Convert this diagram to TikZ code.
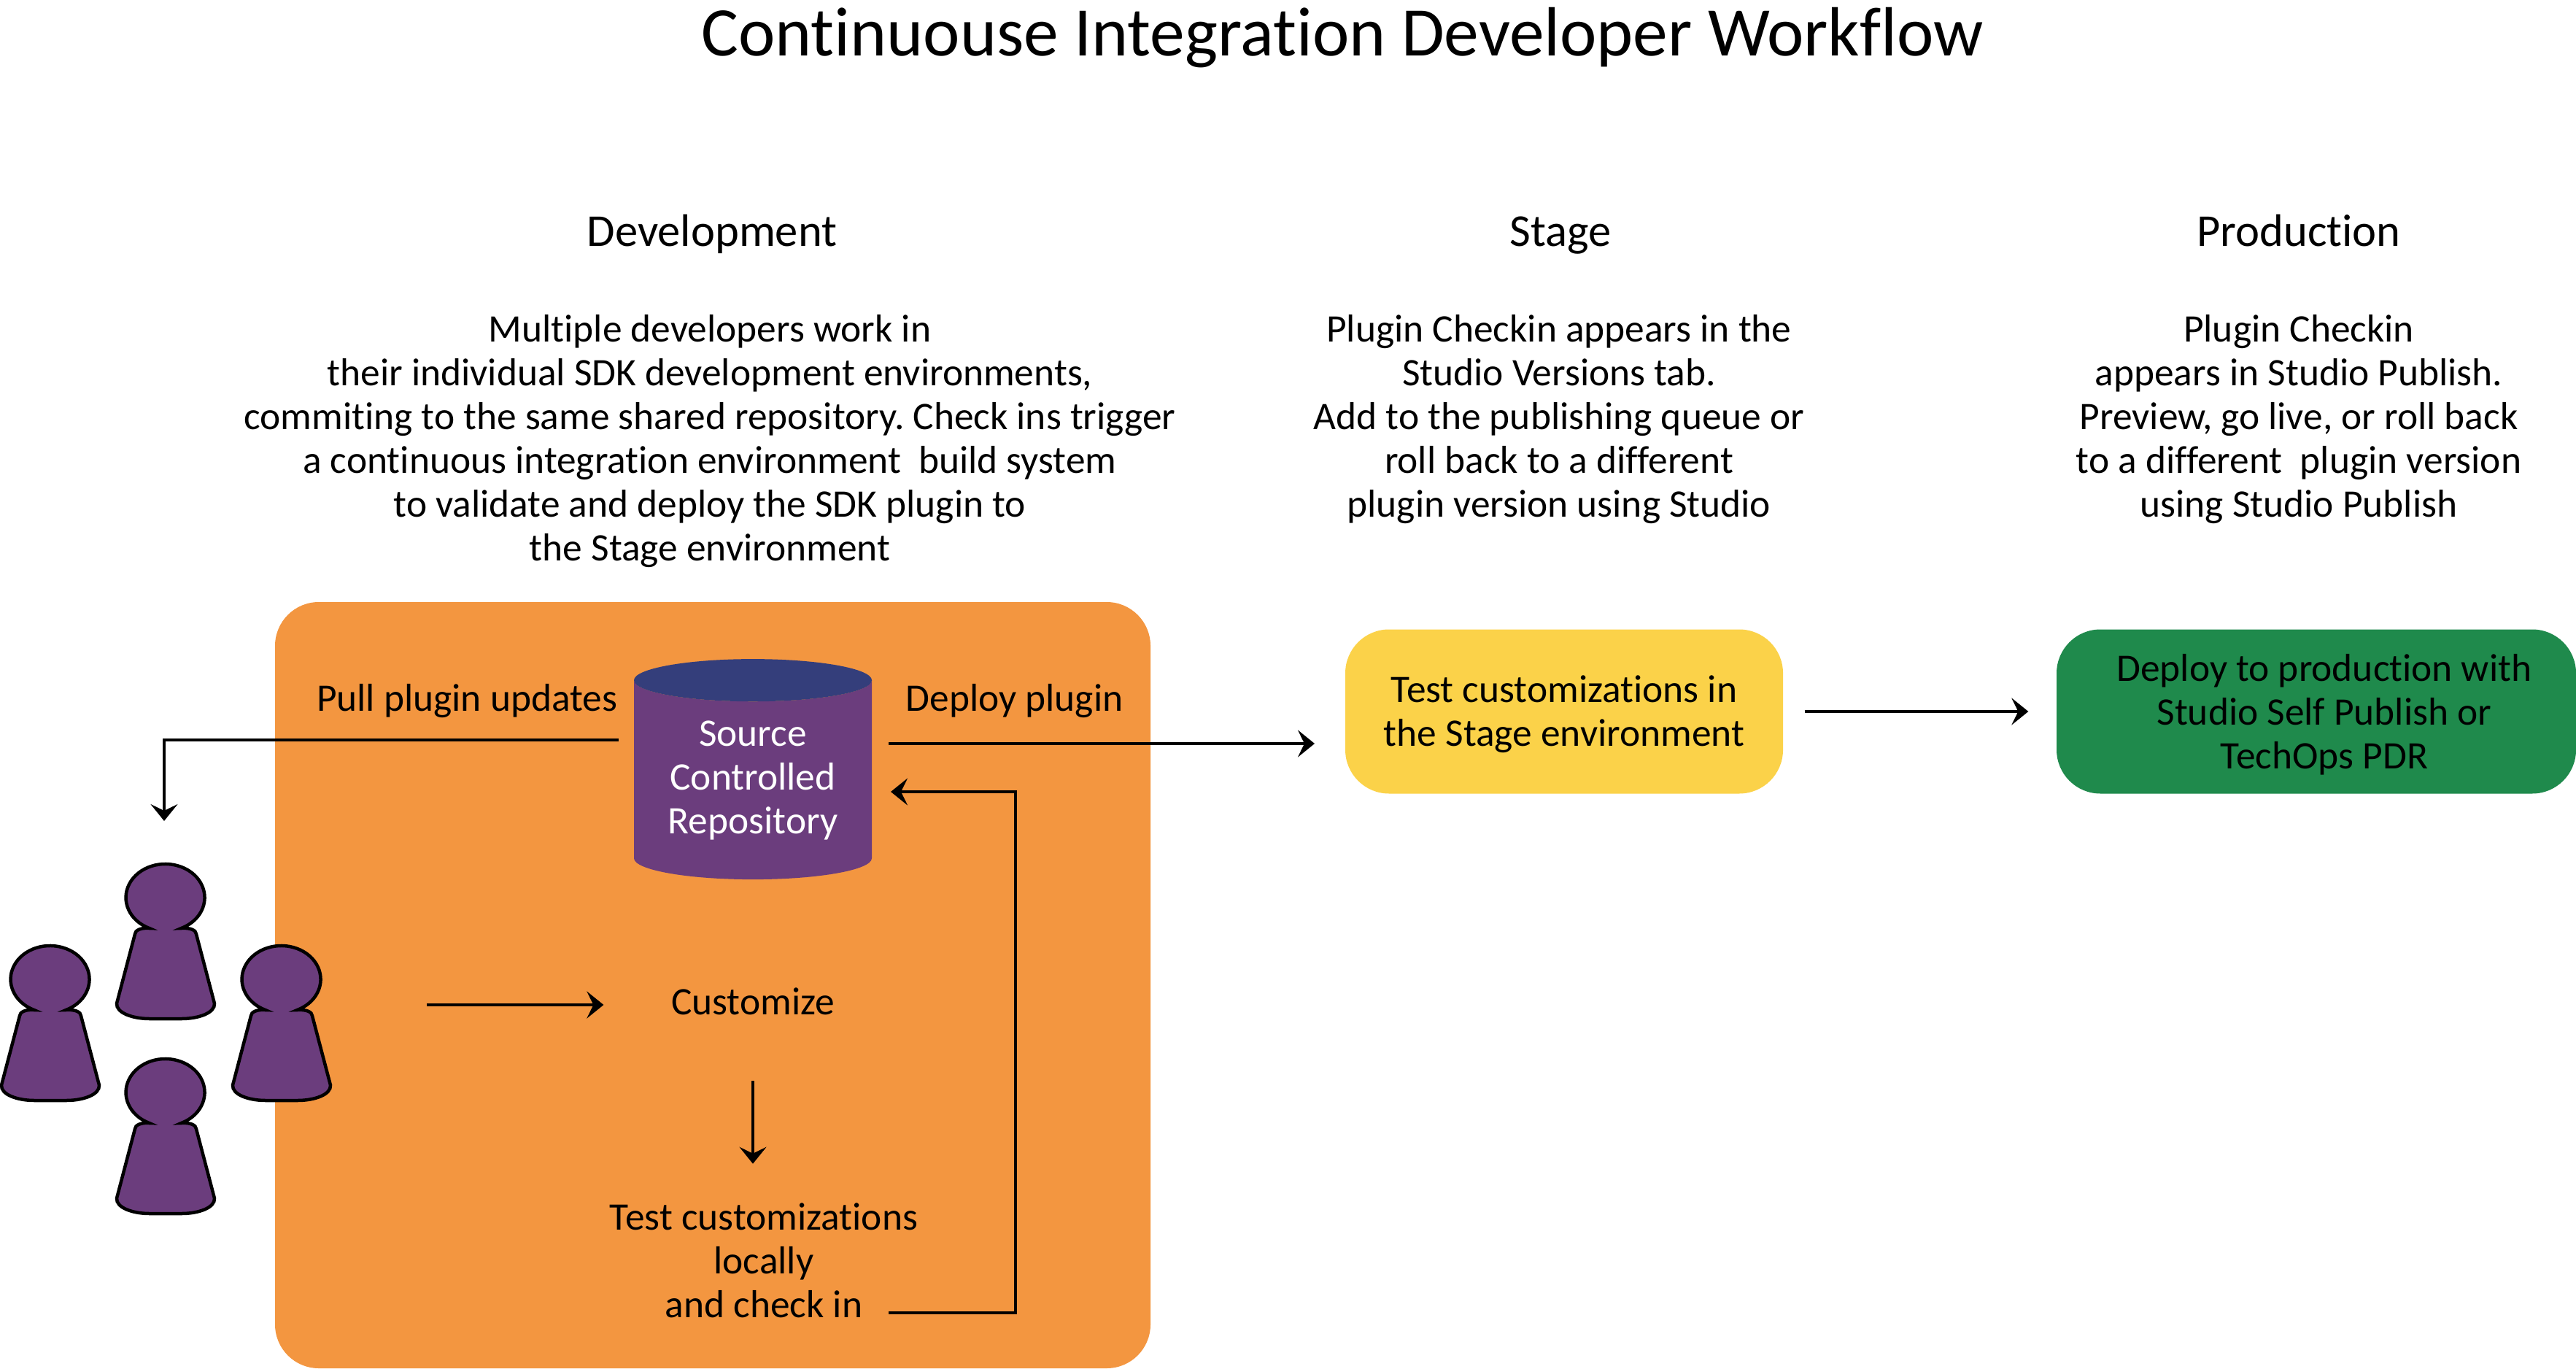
\documentclass[tikz,border=0pt]{standalone}
\usepackage{fontspec}
\setmainfont[Ligatures=NoCommon]{Carlito}
\usetikzlibrary{arrows.meta,shapes.geometric}
\definecolor{devorange}{HTML}{F39640}
\definecolor{stageyellow}{HTML}{FBD249}
\definecolor{prodgreen}{HTML}{1F8A4C}
\definecolor{pawnpurple}{HTML}{6B3D7D}
\definecolor{topblue}{HTML}{343E7B}
\tikzset{
  bodytext/.style={align=center,inner sep=0pt,font=\fontsize{15.2}{17.07}\selectfont\frenchspacing},
  headtext/.style={inner sep=0pt,anchor=base,font=\fontsize{17.8}{20}\selectfont},
  stagebox/.style={rounded corners=.6cm,minimum height=2.25cm,inner sep=0pt},
  flow/.style={line width=.045cm,-{Stealth[length=.23cm,width=.37cm,inset=.09cm]}},
  pawn/.style={draw=black,fill=pawnpurple,line width=.045cm,line join=miter}
}

\begin{document}
\begin{tikzpicture}
\useasboundingbox (0,0) rectangle (35.31,18.75);

% Titles
\node[inner sep=0pt,font=\fontsize{27.15}{30}\selectfont] (title) at (18.40,18.23) {Continuouse Integration Developer Workflow};
\node[headtext] (devhead) at (9.76,15.37) {Development};
\node[headtext] (stagehead) at (21.39,15.37) {Stage};
\node[headtext] (prodhead) at (31.51,15.37) {Production};

\node[bodytext] (devtext) at (9.73,12.70) {Multiple developers work in\\their individual SDK development environments,\\commiting to the same shared repository. Check ins trigger\\a continuous integration environment\ \ build system\\to validate and deploy the SDK plugin to\\the Stage environment};
\node[bodytext] (stagetext) at (21.37,13.00) {Plugin Checkin appears in the\\Studio Versions tab.\\Add to the publishing queue or\\roll back to a different\\plugin version using Studio};
\node[bodytext] (prodtext) at (31.51,13.00) {Plugin Checkin\\appears in Studio Publish.\\Preview, go live, or roll back\\to a different\ \ plugin version\\using Studio Publish};

% Boxes
\node[fill=devorange,rounded corners=.6cm,minimum width=12cm,minimum height=10.5cm,inner sep=0pt] (devbox) at (9.77,5.25) {};
\node[stagebox,fill=stageyellow,minimum width=6cm,label={[bodytext,yshift=-.04cm]center:Test customizations in\\the Stage environment}] (stage) at (21.44,9.00) {};
\node[stagebox,fill=prodgreen,minimum width=7.12cm,label={[bodytext,xshift=.11cm,yshift=-.04cm]center:Deploy to production with\\Studio Self Publish or\\TechOps PDR}] (prod) at (31.75,9.00) {};

\node[cylinder,shape border rotate=90,aspect=.25,minimum width=3.26cm,minimum height=3.02cm,
  cylinder uses custom fill,cylinder body fill=pawnpurple,cylinder end fill=topblue,
  text=white,bodytext] (repo) at (10.32,8.06) {Source\\Controlled\\Repository};

\node[bodytext,anchor=east] (pull) at (8.47,9.14) {Pull plugin updates};
\node[bodytext,anchor=west] (deploy) at (12.41,9.14) {Deploy plugin};
\node[bodytext] (cust) at (10.32,5.03) {Customize};
\node[bodytext] (test) at (10.47,1.48) {Test customizations\\locally\\and check in};

% Free ends of the connectors
\coordinate (pullstart) at (8.48,8.61);
\coordinate (pullend) at (2.25,7.50);
\coordinate (deploystart) at (12.18,8.56);
\coordinate (deployend) at (18.02,8.56);
\coordinate (custstart) at (5.85,4.98);
\coordinate (checkin) at (12.18,.76);
\coordinate (repoin) at (12.21,7.90);

\draw[flow] (pullstart) -| (pullend);
\draw[flow] (deploystart) -- (deployend);
\draw[flow,shorten >=.92cm] (custstart) -- (custstart -| cust.west);
\draw[flow,shorten <=.9cm,shorten >=.53cm] (10.32,4.7 |- cust.south) -- (10.32,0 |- test.north);
\draw[flow] (checkin) -- ++(1.74,0) |- (repoin);
\draw[flow,shorten <=.29cm,shorten >=.38cm] (stage) -- (prod);

% Four developers
\foreach \px/\py in {2.27/6.45,2.27/3.78,.69/5.33,3.86/5.33}{
\begin{scope}[shift={(\px,\py)}]
\draw[pawn] (-.224,-.42) arc[start angle=246,end angle=-66,x radius=.54,y radius=.46]
  .. controls (.34,-.41) and (.42,-.45) .. (.42,-.50) -- (.67,-1.45)
  .. controls (.68,-1.58) and (.45,-1.66) .. (.22,-1.66) -- (-.22,-1.66)
  .. controls (-.45,-1.66) and (-.68,-1.58) .. (-.67,-1.45) -- (-.42,-.50)
  .. controls (-.42,-.45) and (-.34,-.41) .. cycle;
\end{scope}
}
\end{tikzpicture}
\end{document}
